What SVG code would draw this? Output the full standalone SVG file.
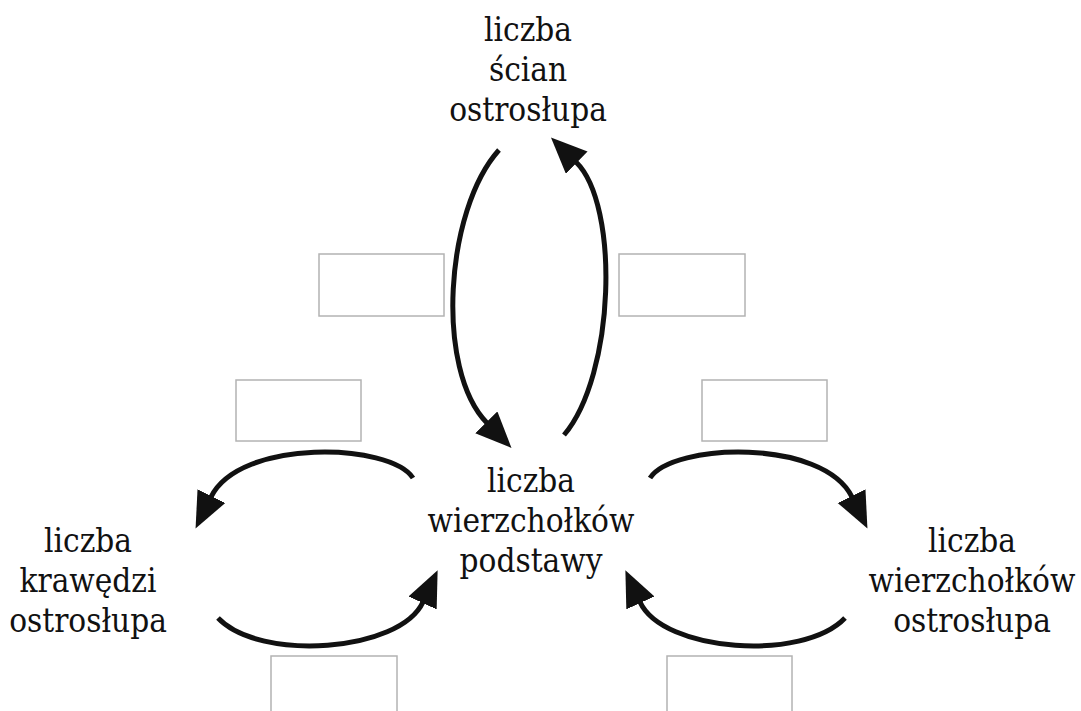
<svg xmlns="http://www.w3.org/2000/svg" width="1081" height="711" viewBox="0 0 1081 711">
<style>
.lbl{font-family:'DejaVu Serif Condensed','DejaVu Serif',serif;font-stretch:condensed;font-size:33px;fill:#111;text-anchor:middle}
.box{fill:#fff;stroke:#b3b3b3;stroke-width:1.5}
.arc{fill:none;stroke:#111;stroke-width:5}
</style>
<defs>
<marker id="ah" markerUnits="userSpaceOnUse" markerWidth="40" markerHeight="34" refX="1" refY="15.5" orient="auto">
<path d="M0,0 L36,15.5 L0,31 Z" fill="#111"/>
</marker>
</defs>
<rect width="1081" height="711" fill="#fff"/>
<g id="node-top">
<text class="lbl" x="528" y="41">liczba</text>
<text class="lbl" x="528" y="81">ścian</text>
<text class="lbl" x="528" y="121">ostrosłupa</text>
</g>
<g id="node-center">
<text class="lbl" x="531" y="492">liczba</text>
<text class="lbl" x="531" y="532">wierzchołków</text>
<text class="lbl" x="531" y="572">podstawy</text>
</g>
<g id="node-left">
<text class="lbl" x="88" y="552">liczba</text>
<text class="lbl" x="88" y="592">krawędzi</text>
<text class="lbl" x="88" y="632">ostrosłupa</text>
</g>
<g id="node-right">
<text class="lbl" x="972" y="552">liczba</text>
<text class="lbl" x="972" y="592">wierzchołków</text>
<text class="lbl" x="972" y="632">ostrosłupa</text>
</g>
<g id="answer-boxes">
<rect id="box-a" class="box" x="319" y="254" width="125" height="62"/>
<rect id="box-b" class="box" x="619" y="254" width="126" height="62"/>
<rect id="box-c" class="box" x="236" y="380" width="125" height="61"/>
<rect id="box-d" class="box" x="702" y="380" width="125" height="61"/>
<rect id="box-e" class="box" x="271" y="656" width="126" height="62"/>
<rect id="box-f" class="box" x="667" y="656" width="125" height="62"/>
</g>
<g id="connectors">
<path class="arc" marker-end="url(#ah)" d="M499,150 C445,210 435,370 487,423"/>
<path class="arc" marker-end="url(#ah)" d="M564,435 C615,375 620,205 576,162"/>
<path class="arc" marker-end="url(#ah)" d="M413,478 C390,443 240,438 211,497"/>
<path class="arc" marker-end="url(#ah)" d="M218,618 C260,662 400,652 423,602"/>
<path class="arc" marker-end="url(#ah)" d="M650,478 C673,443 823,438 852,497"/>
<path class="arc" marker-end="url(#ah)" d="M845,618 C803,662 663,652 640,602"/>
</g>
</svg>
